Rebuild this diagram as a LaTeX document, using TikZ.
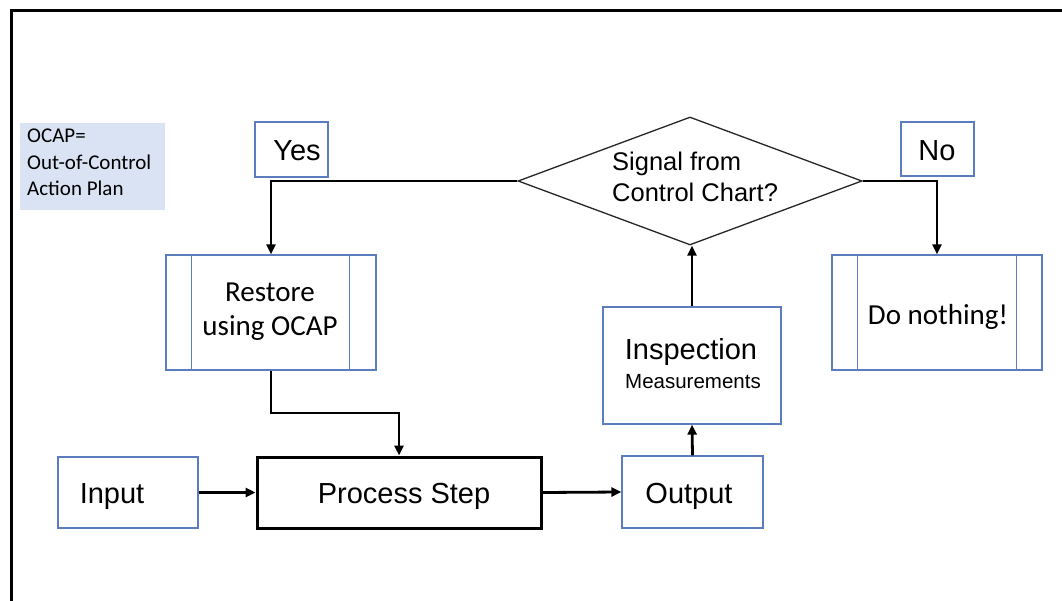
\documentclass[tikz,border=0pt]{standalone}
\usepackage{fontspec}
\setmainfont{Liberation Sans}
\newfontfamily\calfont{Carlito}
\usetikzlibrary{arrows.meta,shapes.geometric}
\definecolor{boxblue}{HTML}{5B7DBD}
\definecolor{noteblue}{HTML}{DAE3F3}
\begin{document}
\begin{tikzpicture}[x=1pt,y=-1pt,
  bluebox/.style={draw=boxblue, line width=1.3pt, inner sep=0pt},
  txt/.style={inner sep=0pt, anchor=base, font=\fontsize{29}{35}\selectfont},
  caltxt/.style={inner sep=0pt, anchor=base, font=\calfont\fontsize{29}{34}\selectfont, align=center},
  conn/.style={draw=black, line width=2.8pt, -{Triangle[length=10pt,width=9pt]}},
  subline/.style={draw=boxblue, line width=1.3pt}]
\useasboundingbox (0,0) rectangle (1062,601);
\fill[white] (0,0) rectangle (1062,601);
% frame
\draw[line width=3pt, line cap=rect] (11,601) -- (11,10.5) -- (1062,10.5);

% note
\node[fill=noteblue, minimum width=145pt, minimum height=87pt, inner sep=0pt] (note) at (92.5,166.5) {};
\node[anchor=base west, inner sep=0pt, font=\calfont\fontsize{21}{26.5}\selectfont, align=left] (notetxt) at (27,196) {OCAP=\\Out-of-Control\\Action Plan};

% yes / no labels
\node[bluebox, minimum width=73pt, minimum height=55pt] (yes) at (291.5,149.5) {};
\node[txt] (yestxt) at (297,161) {Yes};
\node[bluebox, minimum width=73pt, minimum height=54pt] (no) at (937.5,149) {};
\node[txt] (notxt) at (937,161) {No};

% decision
\node[draw=black!85, line width=1.3pt, diamond, aspect=2.6875, minimum width=344pt, minimum height=128pt, inner sep=0pt] (dec) at (690,181) {};
\node[inner sep=0pt, anchor=base west, align=left, font=\fontsize{25.5}{31}\selectfont] (dectxt) at (612,202) {Signal from\\Control Chart?};

% restore (predefined process)
\node[bluebox, minimum width=210pt, minimum height=115pt] (rest) at (271,312.5) {};
\draw[subline] ([xshift=26pt]rest.north west) -- ([xshift=26pt]rest.south west);
\draw[subline] ([xshift=-27pt]rest.north east) -- ([xshift=-27pt]rest.south east);
\node[caltxt] (resttxt) at (270,335) {Restore\\using OCAP};

% do nothing
\node[bluebox, minimum width=210pt, minimum height=115pt] (dono) at (937,312.5) {};
\draw[subline] ([xshift=26pt]dono.north west) -- ([xshift=26pt]dono.south west);
\draw[subline] ([xshift=-26pt]dono.north east) -- ([xshift=-26pt]dono.south east);
\node[caltxt] (donotxt) at (938,324) {Do nothing!};

% inspection
\node[bluebox, minimum width=178pt, minimum height=117pt] (insp) at (692,365.5) {};
\node[txt] (insptxt) at (691,359) {Inspection};
\node[inner sep=0pt, anchor=base, font=\fontsize{20.5}{24}\selectfont] (meastxt) at (693,388) {Measurements};

% bottom row
\node[bluebox, minimum width=140pt, minimum height=71pt] (inp) at (128,492.5) {};
\node[txt] (inptxt) at (112,503) {Input};
\node[draw=black, line width=3pt, minimum width=284pt, minimum height=71pt, inner sep=0pt] (proc) at (399,492.5) {};
\node[txt] (proctxt) at (404,503) {Process Step};
\node[bluebox, minimum width=141pt, minimum height=72pt] (outp) at (692.5,492) {};
\node[txt] (outtxt) at (689,503) {Output};

% connectors
\draw[conn] (dec.west) -| (rest.north);
\draw[conn] (dec.east) -| (dono.north);
\coordinate (bend) at (271,413);
\draw[conn] (rest.south) -- (bend) -| (proc.north);
\draw[conn] (inp.east) -- (proc.west);
\draw[conn] (proc.east) -- (outp.west);
\draw[conn] (outp.north) -- (insp.south);
\draw[conn] (insp.north) -- (insp.north |- dec.south);
\end{tikzpicture}
\end{document}
